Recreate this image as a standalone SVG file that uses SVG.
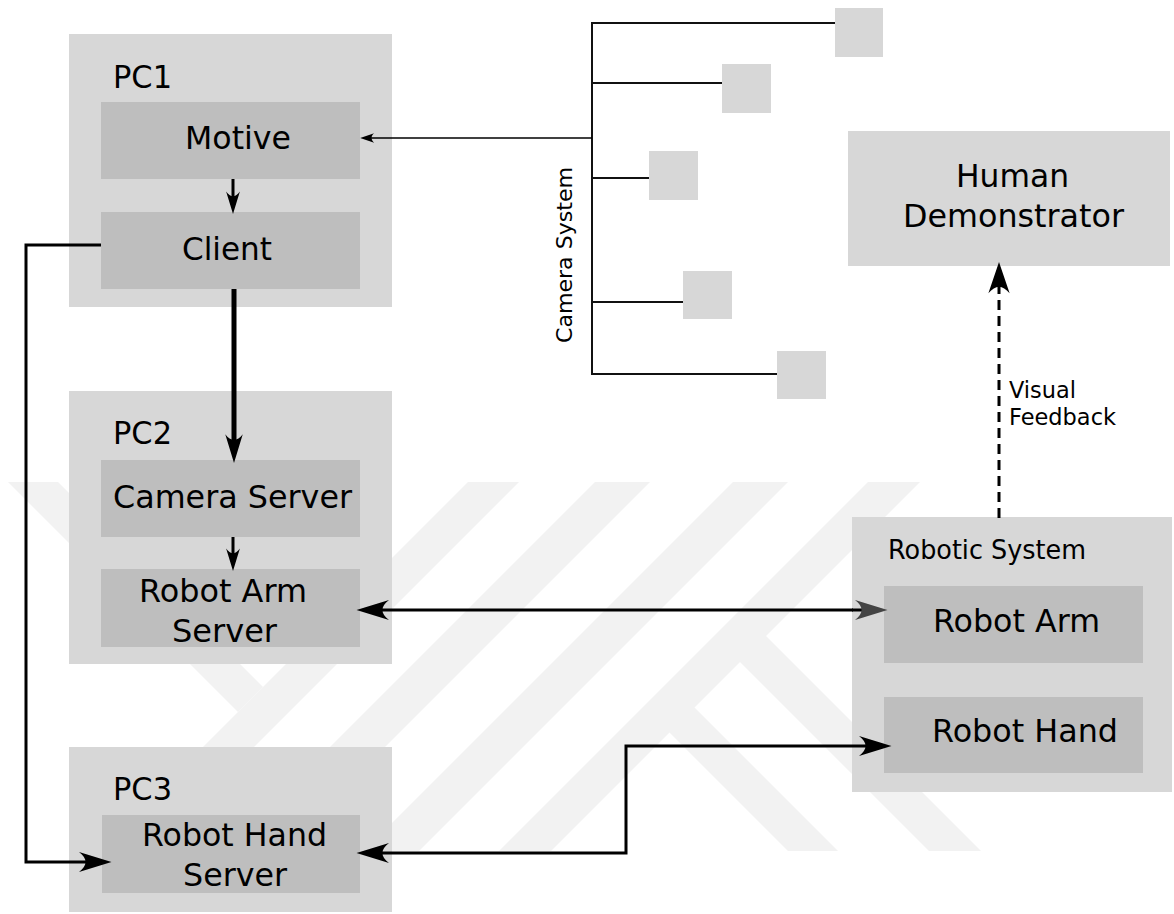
<svg xmlns="http://www.w3.org/2000/svg" width="1174" height="914" viewBox="0 0 1174 914">
<style>
  .outer { fill: #d7d7d7; }
  .inner { fill: #bebebe; }
  .cam { fill: #d7d7d7; }
  .wm { fill: #f2f2f2; }
  text { font-family: "DejaVu Sans", "Liberation Sans", sans-serif; fill: #000; }
  .lbl { font-size: 32px; }
  .big { font-size: 32.5px; text-anchor: middle; }
  .small { font-size: 23px; }
  .mid { font-size: 26px; }
  .ln { fill: none; stroke: #000; stroke-linejoin: miter; }
  .cl { fill: none; stroke: #111; stroke-width: 2; }
</style>
<defs>
  <marker id="ahBig" markerUnits="userSpaceOnUse" markerWidth="40" markerHeight="30" viewBox="-30 -10 32 20" refX="-14" refY="0" orient="auto-start-reverse" overflow="visible">
    <path d="M0,0 L-26,-8 C-19,-2.5 -19,2.5 -26,8 Z" fill="#000"/>
  </marker>
  <marker id="ahGrey" markerUnits="userSpaceOnUse" markerWidth="40" markerHeight="30" viewBox="-30 -10 32 20" refX="-14" refY="0" orient="auto" overflow="visible">
    <path d="M0,0 L-26,-8 C-19,-2.5 -19,2.5 -26,8 Z" fill="#444"/>
  </marker>
  <marker id="ahThick" markerUnits="userSpaceOnUse" markerWidth="40" markerHeight="30" viewBox="-30 -10 32 20" refX="-12" refY="0" orient="auto" overflow="visible">
    <path d="M0,0 L-23,-7 C-17,-2.5 -17,2.5 -23,7 Z" fill="#000"/>
  </marker>
  <marker id="ahSmall" markerUnits="userSpaceOnUse" markerWidth="30" markerHeight="20" viewBox="-20 -8 22 16" refX="-8" refY="0" orient="auto" overflow="visible">
    <path d="M0,0 L-18,-5.5 C-13,-2 -13,2 -18,5.5 Z" fill="#000"/>
  </marker>
  <marker id="ahXS" markerUnits="userSpaceOnUse" markerWidth="20" markerHeight="14" viewBox="-14 -6 16 12" refX="-5" refY="0" orient="auto" overflow="visible">
    <path d="M0,0 L-12,-4 C-9,-1.5 -9,1.5 -12,4 Z" fill="#000"/>
  </marker>
  <marker id="ahDash" markerUnits="userSpaceOnUse" markerWidth="40" markerHeight="30" viewBox="-30 -10 32 20" refX="-12" refY="0" orient="auto" overflow="visible">
    <path d="M0,0 L-25,-8.5 C-18,-2.5 -18,2.5 -25,8.5 Z" fill="#000"/>
  </marker>
</defs>

<rect width="1174" height="914" fill="#ffffff"/>

<g id="watermark">
  <polygon class="wm" points="8,482 58,482 263,687 238,712"/>
  <polygon class="wm" points="468,482 519,482 150,851 99,851"/>
  <polygon class="wm" points="595,482 650,482 281,851 226,851"/>
  <polygon class="wm" points="733,482 788,482 419,851 364,851"/>
  <polygon class="wm" points="868,482 920,482 551,851 499,851"/>
  <polygon class="wm" points="693.5,706.5 838,851 788,851 668.5,731.5"/>
  <polygon class="wm" points="765,635 981,851 929,851 739,661"/>
</g>

<g id="pc1">
  <rect class="outer" x="69" y="34" width="323" height="273"/>
  <text class="lbl" x="113" y="88" textLength="59" lengthAdjust="spacingAndGlyphs">PC1</text>
</g>
<g id="motive">
  <rect class="inner" x="101" y="102" width="259" height="77"/>
  <text class="big" x="238" y="149" textLength="106" lengthAdjust="spacingAndGlyphs">Motive</text>
</g>
<g id="client">
  <rect class="inner" x="101" y="212" width="259" height="77"/>
  <text class="big" x="227" y="260" textLength="90" lengthAdjust="spacingAndGlyphs">Client</text>
</g>

<g id="pc2">
  <rect class="outer" x="69" y="391" width="323" height="273"/>
  <text class="lbl" x="113" y="444" textLength="59" lengthAdjust="spacingAndGlyphs">PC2</text>
</g>
<g id="camera-server">
  <rect class="inner" x="101" y="460" width="259" height="77"/>
  <text class="big" x="232.5" y="508" textLength="239" lengthAdjust="spacingAndGlyphs">Camera Server</text>
</g>
<g id="robot-arm-server">
  <rect class="inner" x="101" y="569" width="259" height="78"/>
  <text class="big" x="223" y="602" textLength="168" lengthAdjust="spacingAndGlyphs">Robot Arm</text>
  <text class="big" x="224.5" y="642" textLength="105" lengthAdjust="spacingAndGlyphs">Server</text>
</g>

<g id="pc3">
  <rect class="outer" x="69" y="747" width="323" height="165"/>
  <text class="lbl" x="113" y="800" textLength="59" lengthAdjust="spacingAndGlyphs">PC3</text>
</g>
<g id="robot-hand-server">
  <rect class="inner" x="102" y="815" width="258" height="78"/>
  <text class="big" x="234.5" y="846" textLength="185" lengthAdjust="spacingAndGlyphs">Robot Hand</text>
  <text class="big" x="235" y="886" textLength="104" lengthAdjust="spacingAndGlyphs">Server</text>
</g>

<g id="camera-system">
  <rect class="cam" x="835" y="8" width="48" height="49"/>
  <rect class="cam" x="722" y="64" width="49" height="49"/>
  <rect class="cam" x="649" y="151" width="49" height="49"/>
  <rect class="cam" x="683" y="271" width="49" height="48"/>
  <rect class="cam" x="777" y="351" width="49" height="48"/>
  <path class="cl" d="M592,22 V375 M591,23 H835 M592,83 H722 M592,178 H649 M592,302 H683 M591,374 H777"/>
  <text class="small" transform="translate(572,255) rotate(-90)" text-anchor="middle" textLength="176" lengthAdjust="spacingAndGlyphs" style="font-size:22px">Camera System</text>
</g>

<g id="human-demonstrator">
  <rect class="outer" x="848" y="131" width="322" height="135"/>
  <text class="big" x="1012.5" y="187" textLength="113" lengthAdjust="spacingAndGlyphs">Human</text>
  <text class="big" x="1013.5" y="227" textLength="221" lengthAdjust="spacingAndGlyphs">Demonstrator</text>
</g>

<g id="robotic-system">
  <rect class="outer" x="852" y="517" width="320" height="275"/>
  <text class="mid" x="888" y="559" textLength="198" lengthAdjust="spacingAndGlyphs">Robotic System</text>
</g>
<g id="robot-arm">
  <rect class="inner" x="884" y="586" width="259" height="77"/>
  <text class="big" x="1016.5" y="632" textLength="167" lengthAdjust="spacingAndGlyphs">Robot Arm</text>
</g>
<g id="robot-hand">
  <rect class="inner" x="884" y="697" width="259" height="76"/>
  <text class="big" x="1025" y="742" textLength="186" lengthAdjust="spacingAndGlyphs">Robot Hand</text>
</g>

<g id="connectors">
  <path class="ln" stroke-width="1.5" d="M592,138 H366" marker-end="url(#ahXS)"/>
  <path class="ln" stroke-width="3" d="M233,179 V204" marker-end="url(#ahSmall)"/>
  <path class="ln" stroke-width="5" d="M234,289 V448" marker-end="url(#ahThick)"/>
  <path class="ln" stroke-width="3" d="M233,537 V561" marker-end="url(#ahSmall)"/>
  <path class="ln" stroke-width="3" d="M101,245 H26 V862 H94" marker-end="url(#ahBig)"/>
  <path class="ln" stroke-width="3" d="M374,610 H853" marker-start="url(#ahBig)"/>
  <path class="ln" stroke="#444" stroke-width="3" d="M852,610 H870" marker-end="url(#ahGrey)"/>
  <path class="ln" stroke-width="3" d="M374,853 H626 V746 H874" marker-start="url(#ahBig)" marker-end="url(#ahBig)"/>
  <path class="ln" stroke-width="3" stroke-dasharray="10,6" d="M999,518 V277" marker-end="url(#ahDash)"/>
  <text class="small" x="1009" y="398" textLength="67" lengthAdjust="spacingAndGlyphs">Visual</text>
  <text class="small" x="1009" y="425" textLength="107" lengthAdjust="spacingAndGlyphs">Feedback</text>
</g>
</svg>
